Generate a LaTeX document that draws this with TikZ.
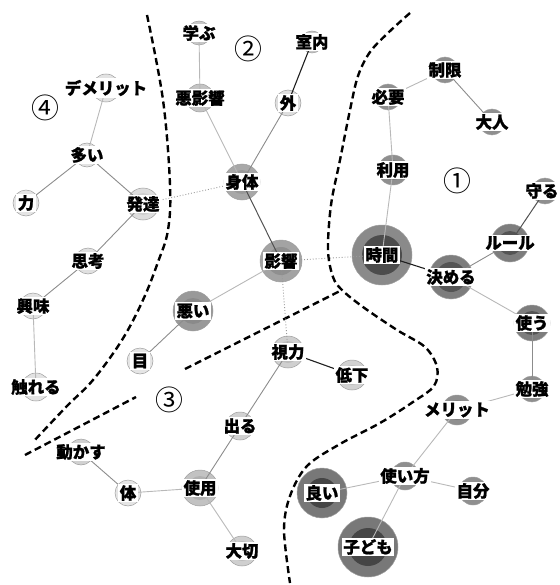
\documentclass[tikz,border=0pt]{standalone}
\usepackage{fontspec}
\newfontfamily\jp{Noto Sans CJK JP}[BoldFeatures={FakeBold=1.2}]
\begin{document}
\begin{tikzpicture}[x=1bp,y=-1bp,
  knc/.style={circle,inner sep=0pt,outer sep=0pt,draw=black!38,line width=0.5bp},
  lab/.style={fill=white,inner sep=1.5bp,outer sep=0pt,text=black,
    font=\jp\bfseries\fontsize{16.5}{16.5}\selectfont},
  num/.style={inner sep=0pt,font=\jp\fontsize{28}{28}\selectfont},
  el/.style={draw=black!28,line width=0.9bp},
  em/.style={draw=black!45,line width=0.9bp},
  ed/.style={draw=black!68,line width=1bp},
  ek/.style={draw=black!88,line width=1.1bp},
  edot/.style={draw=black!40,line width=0.9bp,dotted},
  bnd/.style={draw=black,line width=2.4bp,dash pattern=on 7bp off 4bp}]
\useasboundingbox (0,0) rectangle (560,585);

% cluster boundaries
\draw[bnd] plot[smooth,tension=0.6] coordinates {(147,15) (163,100) (170,185) (168,230) (158,262) (143,300) (122,340) (93,380) (67,406) (33,442)};
\draw[bnd] (25,455) -- (136,397);
\draw[bnd] (185,369) -- (342,290);
\draw[bnd] plot[smooth,tension=0.55] coordinates {(410,13) (389,32) (370,52) (358,76) (350,110) (340,160) (331,205) (328,250) (333,277) (342,290) (363,307) (397,330) (425,347) (437,367) (434,386) (413,402) (380,423) (340,444) (307,466) (290,496) (284,530) (290,583)};

% node circles: name/x/y/r/outer/inner/innerradius
\foreach \n/\x/\y/\r/\co/\ci/\ri in {
  dem/106/88/14/11/17/9, ooi/87/155/12/11/17/8, chikara/26/203/13/10/16/9,
  hattatsu/143/204/16/13/19/11, shikou/88/261/13/12/18/9, kyoumi/33/306/13/11/17/9,
  fureru/36/387/14/11/17/9,
  manabu/199/33/12/22/29/8, akueikyo/200/98/14/23/30/9, soto/288/103/13/13/22/9,
  shitsunai/312/42/11/22/29/7, shintai/242/182/18/34/40/12, eikyo/281/261/21/36/44/14,
  warui/193/311/20/40/46/13, me/140/361/13/10/18/9,
  shiryoku/288/352/16/19/26/11, teika/352/375/15/18/25/10, deru/240/426/14/18/25/9,
  shiyou/200/488/18/24/31/12, karada/128/493/13/10/18/9, ugokasu/81/452/13/18/25/9,
  taisetsu/242/551/15/19/26/10,
  seigen/445/70/13/44/51/9, hitsuyou/388/97/13/44/51/9, otona/492/122/13/44/51/9,
  riyou/393/170/15/44/51/10, jikan/382/255/30/46/70/20, kimeru/451/277/22/51/67/15,
  rule/510/243/19/51/67/12, mamoru/545/191/13/44/51/9, tsukau/532/323/18/51/67/12,
  benkyou/532/389/13/44/51/9, merit/457/410/15/44/51/10, tsukaikata/405/476/14/44/51/9,
  jibun/473/491/14/44/51/9, yoi/322/493/25/53/73/15, kodomo/368/547/30/53/73/19}
{
  \node[knc,fill=black!\co,minimum size=\r*2bp] (\n) at (\x,\y) {};
  \fill[black!\ci] (\n.center) circle[radius=\ri*1bp];
}

% edges
\foreach \a/\b/\s in {
  dem/ooi/el, ooi/chikara/em, ooi/hattatsu/em, hattatsu/shikou/em, shikou/kyoumi/em,
  kyoumi/fureru/el,
  manabu/akueikyo/el, akueikyo/shintai/el, shintai/soto/em, soto/shitsunai/ek,
  shintai/eikyo/ed, eikyo/warui/el, warui/me/em,
  shiryoku/teika/ek, shiryoku/deru/em, deru/shiyou/em, shiyou/karada/el,
  karada/ugokasu/em, shiyou/taisetsu/el,
  seigen/hitsuyou/el, seigen/otona/em, hitsuyou/riyou/el, riyou/jikan/el,
  jikan/kimeru/ek, kimeru/rule/em, rule/mamoru/ed, kimeru/tsukau/el,
  tsukau/benkyou/em, benkyou/merit/el, merit/tsukaikata/el,
  tsukaikata/jibun/el, tsukaikata/yoi/el, tsukaikata/kodomo/el,
  hattatsu/shintai/edot, eikyo/jikan/edot, eikyo/shiryoku/edot}
{
  \draw[\s] (\a.center) -- (\b.center);
}

% labels
\foreach \n/\t in {
  dem/デメリット, ooi/多い, chikara/力, hattatsu/発達, shikou/思考, kyoumi/興味,
  fureru/触れる, manabu/学ぶ, akueikyo/悪影響, soto/外, shitsunai/室内,
  shintai/身体, eikyo/影響, warui/悪い, me/目, shiryoku/視力, teika/低下,
  deru/出る, shiyou/使用, karada/体, ugokasu/動かす, taisetsu/大切,
  seigen/制限, hitsuyou/必要, otona/大人, riyou/利用, jikan/時間, kimeru/決める,
  rule/ルール, tsukau/使う, benkyou/勉強, merit/メリット,
  tsukaikata/使い方, jibun/自分, yoi/良い, kodomo/子ども}
{
  \node[lab] (\n-l) at (\n.center) {\t};
}
\node[lab,anchor=east] (mamoru-l) at ([xshift=15bp]mamoru.center) {守る};

% cluster numbers
\node[num] (n1) at (457,181) {①};
\node[num] (n2) at (248,49) {②};
\node[num] (n3) at (169,400) {③};
\node[num] (n4) at (45,108) {④};
\end{tikzpicture}
\end{document}
